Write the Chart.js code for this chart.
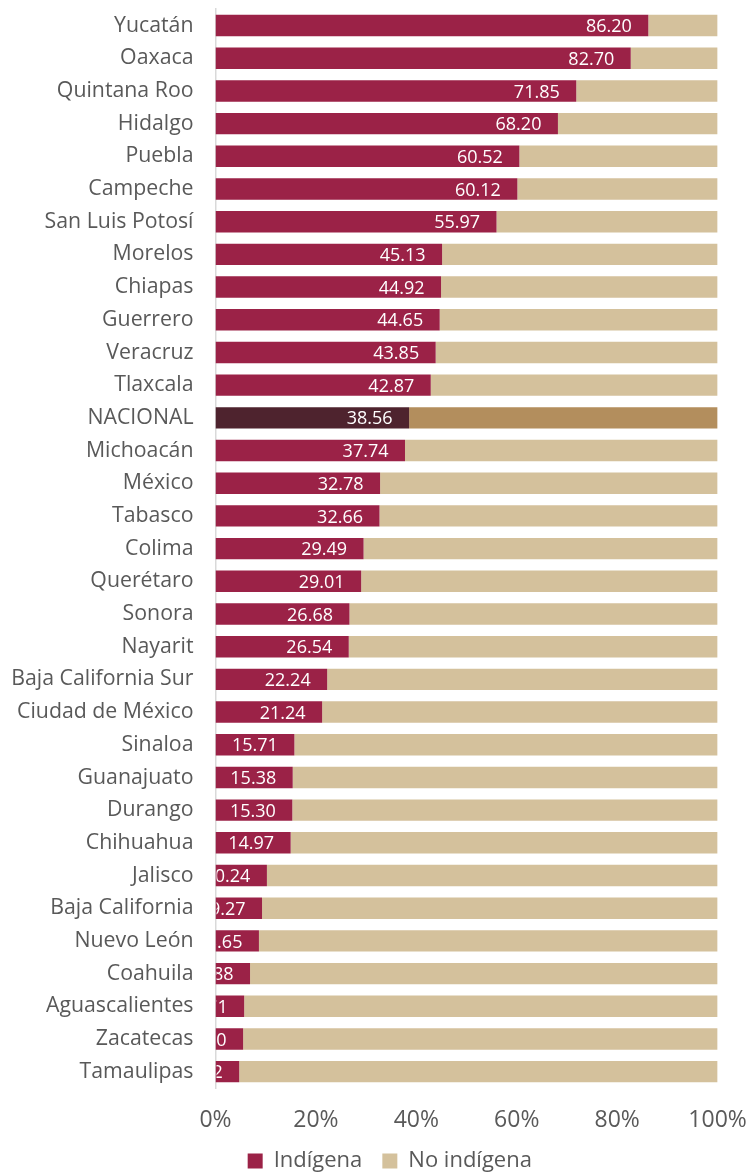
<!DOCTYPE html>
<html>
<head>
<meta charset="utf-8">
<script src="https://cdn.jsdelivr.net/npm/chart.js@4/dist/chart.umd.min.js"></script>
<style>
  html, body { margin: 0; padding: 0; background: #fff; }
  #wrap { width: 747px; height: 1172px; position: relative; }
</style>
</head>
<body>
<div id="wrap"><canvas id="c" width="747" height="1172"></canvas></div>
<script>
// Entidades federativas, ordenadas de mayor a menor porcentaje indígena
const entidades = [
  'Yucatán', 'Oaxaca', 'Quintana Roo', 'Hidalgo', 'Puebla', 'Campeche',
  'San Luis Potosí', 'Morelos', 'Chiapas', 'Guerrero', 'Veracruz', 'Tlaxcala',
  'NACIONAL', 'Michoacán', 'México', 'Tabasco', 'Colima', 'Querétaro',
  'Sonora', 'Nayarit', 'Baja California Sur', 'Ciudad de México', 'Sinaloa',
  'Guanajuato', 'Durango', 'Chihuahua', 'Jalisco', 'Baja California',
  'Nuevo León', 'Coahuila', 'Aguascalientes', 'Zacatecas', 'Tamaulipas'
];

// Porcentaje de población que se considera indígena
const indigena = [
  86.20, 82.70, 71.85, 68.20, 60.52, 60.12,
  55.97, 45.13, 44.92, 44.65, 43.85, 42.87,
  38.56, 37.74, 32.78, 32.66, 29.49, 29.01,
  26.68, 26.54, 22.24, 21.24, 15.71,
  15.38, 15.30, 14.97, 10.24, 9.27,
  8.65, 6.88, 5.71, 5.50, 4.72
];

// Resto de la población (complemento a 100 %)
const noIndigena = indigena.map(v => +(100 - v).toFixed(2));

const ejeTicks = ['0%', '20%', '40%', '60%', '80%', '100%'];

const COLOR_IND = '#9B2247';
const COLOR_NOIND = '#D4C19C';
const COLOR_IND_NAC = '#4E232E';
const COLOR_NOIND_NAC = '#B38E5D';

const colInd = entidades.map(e => e === 'NACIONAL' ? COLOR_IND_NAC : COLOR_IND);
const colNoInd = entidades.map(e => e === 'NACIONAL' ? COLOR_NOIND_NAC : COLOR_NOIND);

const FONT = '"Open Sans", "Noto Sans", sans-serif';

// Etiquetas de valor dentro del extremo de cada barra indígena
const etiquetasValor = {
  id: 'etiquetasValor',
  afterDatasetsDraw(chart) {
    const ctx = chart.ctx;
    const meta = chart.getDatasetMeta(0);
    const area = chart.chartArea;
    ctx.save();
    ctx.beginPath();
    ctx.rect(area.left + 1, area.top, area.right - area.left, area.bottom - area.top);
    ctx.clip();
    ctx.fillStyle = '#ffffff';
    ctx.font = '18px ' + FONT;
    ctx.textAlign = 'right';
    ctx.textBaseline = 'middle';
    meta.data.forEach((bar, i) => {
      ctx.fillText(indigena[i].toFixed(2), bar.x - 16.5, bar.y + 1.5);
    });
    ctx.restore();
  }
};

// Desplaza la leyenda hacia la derecha, centrada bajo la gráfica
const leyendaDesplazada = {
  id: 'leyendaDesplazada',
  afterLayout(chart) {
    const lg = chart.legend;
    if (!lg) return;
    lg.left += 31;
    lg.right += 31;
  }
};

new Chart(document.getElementById('c'), {
  type: 'bar',
  data: {
    labels: entidades,
    datasets: [
      { label: 'Indígena', data: indigena, backgroundColor: colInd,
        barPercentage: 0.655, categoryPercentage: 1 },
      { label: 'No indígena', data: noIndigena, backgroundColor: colNoInd,
        barPercentage: 0.655, categoryPercentage: 1 }
    ]
  },
  options: {
    indexAxis: 'y',
    responsive: false,
    animation: false,
    layout: { padding: { left: 0, right: 29.4, top: 9.2, bottom: 0 } },
    scales: {
      x: {
        stacked: true,
        min: 0, max: 100,
        grid: { display: false, drawTicks: false },
        border: { display: false },
        ticks: {
          stepSize: 20,
          padding: 19,
          color: '#595959',
          font: { family: FONT, size: 23 },
          callback: (v, i) => ejeTicks[i]
        },
        afterFit: s => {
          s.height = 42;
          s.paddingLeft = 0; s.paddingRight = 0;
        }
      },
      y: {
        stacked: true,
        grid: { display: false, drawTicks: false },
        border: { display: true, color: '#d9d9d9', width: 1.5 },
        ticks: {
          padding: 22,
          color: '#595959',
          font: { family: FONT, size: 21.3 }
        },
        afterFit: s => {
          s.width = 215.5;
          s.paddingTop = 0; s.paddingBottom = 0;
        }
      }
    },
    plugins: {
      legend: {
        position: 'bottom',
        maxHeight: 42,
        labels: {
          color: '#595959',
          font: { family: FONT, size: 22, lineHeight: 0.8 },
          boxWidth: 15,
          boxHeight: 15,
          padding: 20
        }
      },
      tooltip: { enabled: false }
    }
  },
  plugins: [etiquetasValor, leyendaDesplazada]
});
</script>
</body>
</html>
